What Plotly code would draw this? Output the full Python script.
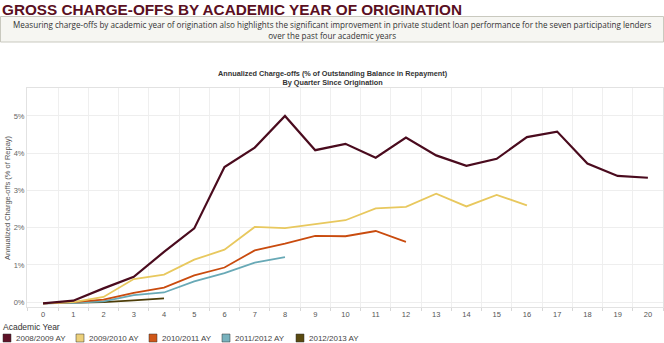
import plotly.graph_objects as go

quarters = list(range(0, 21))
series_names = ["2008/2009 AY", "2009/2010 AY", "2010/2011 AY", "2011/2012 AY", "2012/2013 AY"]
colors = ["#4a0b1e", "#e8c85e", "#c94b0e", "#68a9b6", "#4d3d08"]
swatch_colors = ["#5e1227", "#ecd07a", "#cf5718", "#78b2be", "#5a4a10"]
widths = [2.2, 1.8, 1.8, 1.8, 1.8]

ay_2008 = [-0.03, 0.04, 0.37, 0.68, 1.35, 1.98, 3.63, 4.15, 5.0, 4.08, 4.25, 3.88,
           4.42, 3.94, 3.66, 3.85, 4.43, 4.58, 3.72, 3.39, 3.34]
ay_2009 = [-0.03, 0.0, 0.14, 0.62, 0.74, 1.14, 1.41, 2.02, 1.99, 2.09, 2.2, 2.52,
           2.56, 2.91, 2.57, 2.88, 2.6]
ay_2010 = [-0.03, 0.0, 0.07, 0.25, 0.39, 0.72, 0.93, 1.39, 1.57, 1.78, 1.77, 1.91, 1.62]
ay_2011 = [-0.03, -0.02, 0.02, 0.19, 0.26, 0.56, 0.78, 1.06, 1.21]
ay_2012 = [-0.03, -0.02, 0.0, 0.05, 0.1]
values = [ay_2008, ay_2009, ay_2010, ay_2011, ay_2012]

y_ticks = [0, 1, 2, 3, 4, 5]
y_tick_labels = ["0%", "1%", "2%", "3%", "4%", "5%"]

W, H = 664, 343
L, R, T, B = 27, 663, 88, 307


def px(x):
    return (x - L) / (R - L)


def py(y):
    return (B - y) / (B - T)


fig = go.Figure()
# draw older series last so maroon is on top
for name, vals, col, w in reversed(list(zip(series_names, values, colors, widths))):
    fig.add_trace(go.Scatter(x=quarters[:len(vals)], y=vals, mode="lines", name=name,
                             line=dict(color=col, width=w), showlegend=False))

base_font = "Liberation Sans, Arial, sans-serif"

fig.update_layout(
    width=W, height=H,
    margin=dict(l=L, r=W - R, t=T, b=H - B, pad=0),
    paper_bgcolor="white", plot_bgcolor="white",
    font=dict(family=base_font, size=8, color="#555555"),
    xaxis=dict(range=[-0.53, 20.5], tickmode="array", tickvals=quarters,
               ticktext=[str(q) for q in quarters], showgrid=False, zeroline=False,
               showline=True, linecolor="#e2e2e2", linewidth=1, mirror=True,
               ticks="", tickfont=dict(size=7.5, color="#555555"),
               minor=dict(tick0=0.5, dtick=1, showgrid=True, gridcolor="#efefef",
                          gridwidth=1, ticks="outside", ticklen=3, tickcolor="#d8d8d8")),
    yaxis=dict(range=[-0.13, 5.75], tickmode="array", tickvals=y_ticks,
               ticktext=y_tick_labels, showgrid=True, gridcolor="#eeeeee", gridwidth=1,
               zeroline=False, showline=True, linecolor="#e2e2e2", mirror=True,
               ticks="", tickfont=dict(size=7.5, color="#666666")),
)

annotations = []
shapes = []

# Main header
annotations.append(dict(text="<b>GROSS CHARGE-OFFS BY ACADEMIC YEAR OF ORIGINATION</b>",
                        x=px(1), y=py(0), xref="paper", yref="paper", xanchor="left",
                        yanchor="top", showarrow=False, borderpad=0,
                        font=dict(family=base_font, size=15.3, color="#5a0f22")))
# Sub header box
shapes.append(dict(type="rect", xref="paper", yref="paper", x0=px(0.5), x1=px(663.5),
                   y0=py(42), y1=py(16.5), fillcolor="#f6f6f2",
                   line=dict(color="#c9c9bf", width=1), layer="below"))
annotations.append(dict(
    text="Measuring charge-offs by academic year of origination also highlights the significant improvement in private student loan performance for the seven participating lenders<br>over the past four academic years",
    x=px(332), y=py(29.5), xref="paper", yref="paper", xanchor="center", yanchor="middle",
    showarrow=False, align="center",
    font=dict(family="Open Sans, sans-serif", size=8.1, color="#333333")))
# Chart title
annotations.append(dict(
    text="<b>Annualized Charge-offs (% of Outstanding Balance in Repayment)<br>By Quarter Since Origination</b>",
    x=px(333), y=py(78), xref="paper", yref="paper", xanchor="center", yanchor="middle",
    showarrow=False, align="center",
    font=dict(family=base_font, size=7.3, color="#333333")))
# Y axis title
annotations.append(dict(text="Annualized Charge-offs (% of Repay)", x=px(7.5), y=0.5,
                        xref="paper", yref="paper", xanchor="center", yanchor="middle",
                        textangle=-90, showarrow=False,
                        font=dict(family=base_font, size=7.5, color="#555555")))
# Legend
annotations.append(dict(text="Academic Year", x=px(1), y=py(327), xref="paper", yref="paper",
                        xanchor="left", yanchor="middle", showarrow=False,
                        font=dict(family=base_font, size=8.5, color="#333333")))
legend_x = [3, 76, 149, 222, 296]
for lx, name, sc in zip(legend_x, series_names, swatch_colors):
    shapes.append(dict(type="rect", xref="paper", yref="paper", x0=px(lx), x1=px(lx + 8),
                       y0=py(342), y1=py(334), fillcolor=sc,
                       line=dict(color="#333333", width=0.5)))
    annotations.append(dict(text=name, x=px(lx + 10.5), y=py(338), xref="paper", yref="paper",
                            xanchor="left", yanchor="middle", showarrow=False,
                            font=dict(family=base_font, size=8, color="#444444")))

fig.update_layout(annotations=annotations, shapes=shapes)
fig.write_html("out.html")
